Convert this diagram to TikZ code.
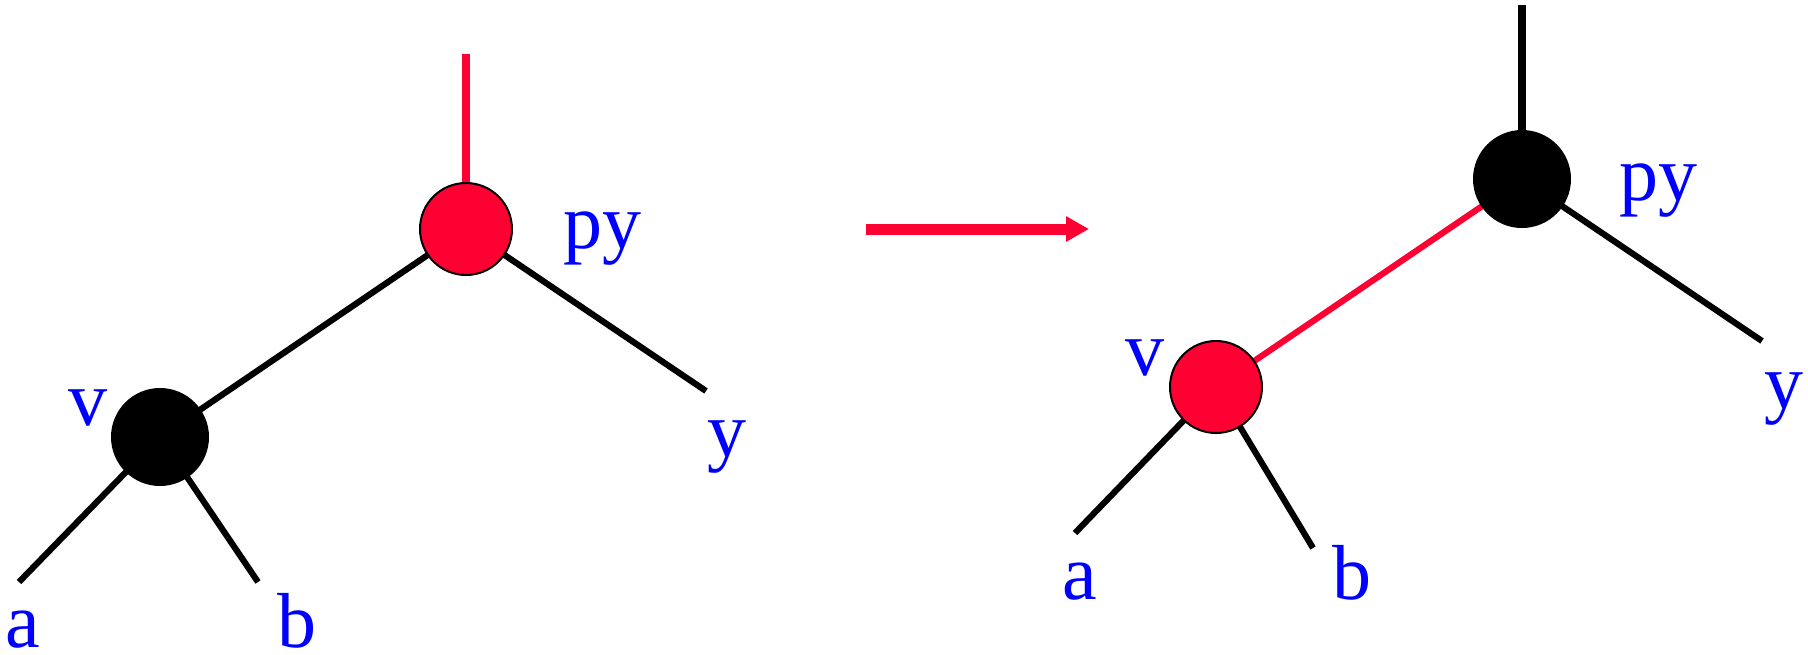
\documentclass[tikz,border=0pt]{standalone}
\usepackage{fontspec}
\setmainfont{Liberation Serif}
\usetikzlibrary{arrows.meta}
\definecolor{rbred}{HTML}{FF0033}
\definecolor{lblue}{HTML}{0000FF}
\pgfdeclarelayer{bg}
\pgfsetlayers{bg,main}
\tikzset{
  blacknode/.style={circle,fill=black,draw=black,line width=2pt,inner sep=0pt,minimum size=96pt},
  rednode/.style={circle,fill=rbred,draw=black,line width=2pt,inner sep=0pt,minimum size=92pt},
  blackedge/.style={draw=black,line width=6.2pt},
  rededge/.style={draw=rbred,line width=6.2pt},
  topedge/.style={line width=7.5pt},
  lbl/.style={text=lblue,anchor=base,inner sep=0pt,font=\fontsize{78pt}{80pt}\selectfont},
}
\begin{document}
\begin{tikzpicture}[x=1pt,y=-1pt]
\useasboundingbox (0,0) rectangle (1808,654);
% left tree
\node[rednode] (pyL) at (466,229) {};
\node[blacknode] (vL) at (160,437) {};
\coordinate (topL) at (466,54);
\coordinate (yL) at (706,391);
\coordinate (aL) at (19,582);
\coordinate (bL) at (258,582);
% right tree
\node[blacknode] (pyR) at (1522,179) {};
\node[rednode] (vR) at (1216,387) {};
\coordinate (topR) at (1522,5);
\coordinate (yR) at (1762,341);
\coordinate (aR) at (1075,533);
\coordinate (bR) at (1313,548);
\begin{pgfonlayer}{bg}
\draw[rededge,topedge] (pyL.center) -- (topL);
\draw[blackedge] (pyL.center) -- (vL.center);
\draw[blackedge] (pyL.center) -- (yL);
\draw[blackedge] (vL.center) -- (aL);
\draw[blackedge] (vL.center) -- (bL);
\draw[blackedge,topedge] (pyR.center) -- (topR);
\draw[rededge] (pyR.center) -- (vR.center);
\draw[blackedge] (pyR.center) -- (yR);
\draw[blackedge] (vR.center) -- (aR);
\draw[blackedge] (vR.center) -- (bR);
\end{pgfonlayer}
% labels
\node[lbl] (lpyL) at (602,248) {py};
\node[lbl] (lvL) at (88,425) {v};
\node[lbl] (lyL) at (727,456) {y};
\node[lbl] (laL) at (23,647) {a};
\node[lbl] (lbL) at (297,647) {b};
\node[lbl] (lpyR) at (1658,200) {py};
\node[lbl] (lvR) at (1145,375) {v};
\node[lbl] (lyR) at (1784,408) {y};
\node[lbl] (laR) at (1080,599) {a};
\node[lbl] (lbR) at (1352,599) {b};
% transform arrow
\coordinate (arS) at (866,229);
\coordinate (arE) at (1089,229);
\draw[rbred,line width=11pt,-{Triangle[length=23pt,width=24pt]}] (arS) -- (arE);
\end{tikzpicture}
\end{document}
